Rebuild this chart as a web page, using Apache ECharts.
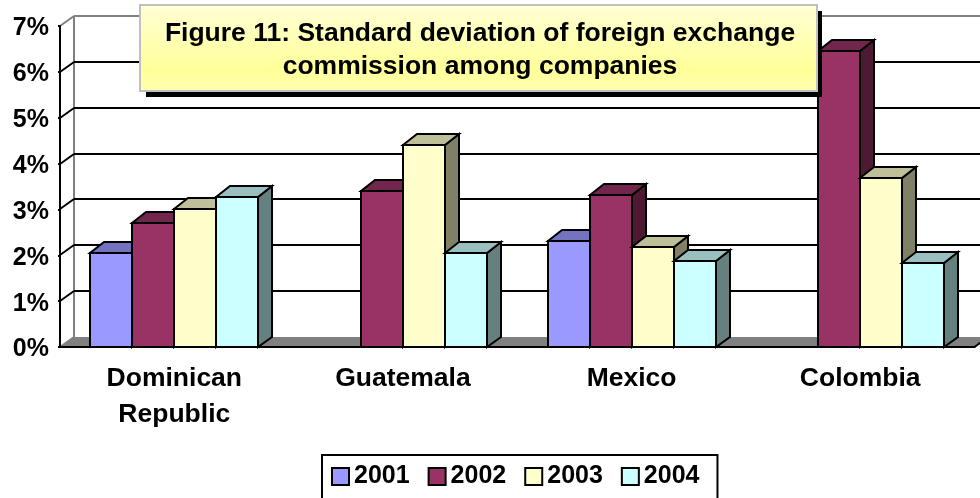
<!DOCTYPE html>
<html>
<head>
<meta charset="utf-8">
<style>
  html, body { margin: 0; padding: 0; background: #fff; }
  #main { width: 980px; height: 498px; overflow: hidden; }
</style>
<script src="https://cdn.jsdelivr.net/npm/echarts@6/dist/echarts.min.js"></script>
</head>
<body>
<div id="main"></div>
<script>
var categories = ['Dominican\nRepublic', 'Guatemala', 'Mexico', 'Colombia'];
var years = ['2001', '2002', '2003', '2004'];
var values2001 = [2.06, null, 2.31, null];
var values2002 = [2.71, 3.40, 3.31, 6.45];
var values2003 = [3.01, 4.40, 2.18, 3.68];
var values2004 = [3.27, 2.05, 1.87, 1.83];
var yTicks = [0, 1, 2, 3, 4, 5, 6, 7];
var colors = ['#9999FF', '#993366', '#FFFFCC', '#CCFFFF'];
var titleText = 'Figure 11: Standard deviation of foreign exchange\ncommission among companies';

var FONT = '"Liberation Sans", Arial, sans-serif';
var DX = 14, DY = 10;   // depth of the fake 3d
var BAR_DY = 11;
var BAR_W = 42;

function shade(hex, k) {
  var c = echarts.color.parse(hex);
  return 'rgb(' + Math.round(c[0] * k) + ',' + Math.round(c[1] * k) + ',' + Math.round(c[2] * k) + ')';
}

function barRenderer(slot, color) {
  return function (params, api) {
    var v = api.value(1);
    if (v === null || v === undefined || isNaN(v)) return;
    var top = api.coord([api.value(0), v]);
    var base = api.coord([api.value(0), 0]);
    var x0 = Math.round(top[0] + (slot - 2) * BAR_W);
    var x1 = x0 + BAR_W;
    var y0 = Math.round(top[1]), y1 = Math.round(base[1]);
    var border = { stroke: '#000', lineWidth: 2, lineJoin: 'miter' };
    return {
      type: 'group',
      children: [
        {
          type: 'polygon',
          shape: { points: [[x1, y0], [x1 + DX, y0 - BAR_DY], [x1 + DX, y1 - DY], [x1, y1]] },
          style: Object.assign({ fill: shade(color, 0.5) }, border)
        },
        {
          type: 'polygon',
          shape: { points: [[x0, y0], [x0 + DX, y0 - BAR_DY], [x1 + DX, y0 - BAR_DY], [x1, y0]] },
          style: Object.assign({ fill: shade(color, 0.75) }, border)
        },
        {
          type: 'rect',
          shape: { x: x0, y: y0, width: BAR_W, height: y1 - y0 },
          style: Object.assign({ fill: color }, border)
        }
      ]
    };
  };
}

// back wall, floor and the gridlines, all shifted by the depth
function frameRenderer(params, api) {
  var v = api.value(0);
  var cs = params.coordSys;
  var y = Math.round(api.coord([0, v])[1]);
  var left = cs.x, right = cs.x + cs.width;
  var children = [];
  if (v === 0) {
    children.push({
      type: 'polygon',
      shape: { points: [[left, y], [left + DX, y - DY], [right + DX, y - DY], [right, y]] },
      style: { fill: '#808080', stroke: null }
    });
    children.push({
      type: 'line',
      shape: { x1: left + DX, y1: y - DY, x2: left + DX, y2: cs.y - DY },
      style: { stroke: '#808080', lineWidth: 2 }
    });
    children.push({
      type: 'line',
      shape: { x1: right, y1: y, x2: right + DX, y2: y - DY },
      style: { stroke: '#000', lineWidth: 2 }
    });
  }
  var lineColor = v === 7 ? '#808080' : '#000';
  if (v !== 0) {
    children.push({
      type: 'line',
      shape: { x1: left + DX, y1: y - DY, x2: right + DX, y2: y - DY },
      style: { stroke: lineColor, lineWidth: 2 }
    });
  }
  children.push({
    type: 'line',
    shape: { x1: left, y1: y, x2: left + DX, y2: y - DY },
    style: { stroke: v === 7 || v === 0 ? '#808080' : '#000', lineWidth: 2 }
  });
  return { type: 'group', children: children };
}

var allValues = [values2001, values2002, values2003, values2004];

var seriesData = years.map(function (year, s) {
  return {
    name: year,
    type: 'custom',
    coordinateSystem: 'cartesian2d',
    clip: false,
    z: 3,
    itemStyle: { color: colors[s] },
    renderItem: barRenderer(s, colors[s]),
    encode: { x: 0, y: 1 },
    data: allValues[s].map(function (v, i) { return [i, v]; })
  };
});

var chart = echarts.init(document.getElementById('main'));

chart.setOption({
  animation: false,
  backgroundColor: '#fff',
  textStyle: { fontFamily: FONT },
  title: {
    text: titleText,
    left: 475,
    top: 12,
    textAlign: 'center',
    z: 20,
    textStyle: { fontFamily: FONT, fontWeight: 'bold', fontSize: 26.5, lineHeight: 33, color: '#000' }
  },
  graphic: [
    {
      type: 'rect', z: 10,
      shape: { x: 146, y: 11, width: 676, height: 86 },
      style: { fill: '#000' }
    },
    {
      type: 'rect', z: 11,
      shape: { x: 140, y: 5, width: 677, height: 86 },
      style: {
        fill: new echarts.graphic.LinearGradient(0, 0, 0, 1, [
          { offset: 0, color: '#FFFFD6' },
          { offset: 0.75, color: '#FFFF99' },
          { offset: 1, color: '#FFFFB0' }
        ]),
        stroke: '#C0C0C0',
        lineWidth: 2
      }
    }
  ],
  legend: {
    data: years,
    left: 322,
    top: 455,
    padding: [9, 18, 14, 9],
    itemGap: 18,
    itemWidth: 17,
    itemHeight: 17,
    icon: 'rect',
    borderColor: '#000',
    borderWidth: 2,
    selectedMode: false,
    itemStyle: { borderColor: '#000', borderWidth: 2 },
    textStyle: { fontFamily: FONT, fontWeight: 'bold', fontSize: 25, color: '#000' }
  },
  grid: { left: 60, top: 26, width: 914.5, height: 321 },
  xAxis: {
    type: 'category',
    data: categories,
    z: 4,
    axisLine: { lineStyle: { color: '#000', width: 2 } },
    axisTick: { alignWithLabel: false, length: 7, lineStyle: { color: '#000', width: 2 } },
    axisLabel: {
      color: '#000',
      fontFamily: FONT,
      fontWeight: 'bold',
      fontSize: 26.5,
      lineHeight: 36,
      margin: 14,
      interval: 0
    }
  },
  yAxis: {
    type: 'value',
    min: 0,
    max: 7,
    interval: 1,
    z: 4,
    splitLine: { show: false },
    axisLine: { show: true, lineStyle: { color: '#000', width: 2 } },
    axisTick: { show: true, length: 2, lineStyle: { color: '#000', width: 2 } },
    axisLabel: {
      margin: 11,
      formatter: '{t|{value}%}',
      rich: {
        t: {
          color: '#000',
          fontFamily: FONT,
          fontWeight: 'bold',
          fontSize: 25,
          padding: [5, 0, 0, 0]
        }
      }
    }
  },
  series: [
    {
      type: 'custom',
      name: 'frame',
      coordinateSystem: 'cartesian2d',
      clip: false,
      z: 1,
      silent: true,
      renderItem: frameRenderer,
      encode: { y: 0 },
      data: yTicks.map(function (t) { return [t]; })
    }
  ].concat(seriesData)
});

window.addEventListener('resize', function () {
  chart.resize();
});
</script>
</body>
</html>
